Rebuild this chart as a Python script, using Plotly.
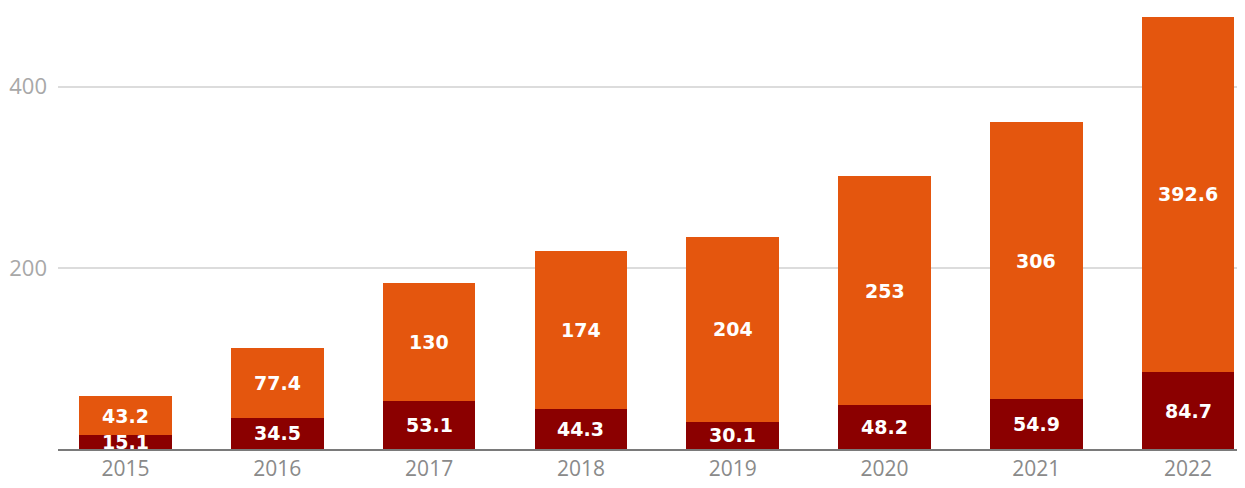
import plotly.graph_objects as go

years = ["2015", "2016", "2017", "2018", "2019", "2020", "2021", "2022"]
bottom_vals = [15.1, 34.5, 53.1, 44.3, 30.1, 48.2, 54.9, 84.7]
top_vals = [43.2, 77.4, 130, 174, 204, 253, 306, 392.6]
y_ticks = [200, 400]

dark = "#8B0000"
orange = "#E4560E"

fig = go.Figure()
fig.add_trace(go.Bar(x=years, y=bottom_vals, marker=dict(color=dark, line=dict(width=0)),
                     width=0.61, hoverinfo="skip"))
fig.add_trace(go.Bar(x=years, y=top_vals, marker=dict(color=orange, line=dict(width=0)),
                     width=0.61, hoverinfo="skip"))

def fmt(v):
    return ("%g" % v)

for i, (b, t) in enumerate(zip(bottom_vals, top_vals)):
    fig.add_annotation(x=i, y=b / 2, text="<b>%s</b>" % fmt(b), showarrow=False, xref="x", yref="y",
                       font=dict(family="DejaVu Sans", size=19, color="white"))
    fig.add_annotation(x=i, y=b + t / 2, text="<b>%s</b>" % fmt(t), showarrow=False, xref="x", yref="y",
                       font=dict(family="DejaVu Sans", size=19, color="white"))

fig.update_layout(
    barmode="stack",
    width=1237, height=480,
    margin=dict(l=50, r=0, t=0, b=39),
    paper_bgcolor="white", plot_bgcolor="white",
    showlegend=False,
)
fig.update_xaxes(
    type="category", range=[-0.445, 7.375],
    showline=True, linecolor="#7a7a7a", linewidth=2,
    showgrid=False, ticks="",
    tickfont=dict(family="Open Sans", size=21, color="#8a8a8a"),
)
fig.update_yaxes(
    range=[0, 486.8], tickvals=y_ticks, ticktext=[str(v) for v in y_ticks],
    showgrid=True, gridcolor="#dcdcdc", gridwidth=2,
    zeroline=False, showline=False, ticks="",
    ticklabelstandoff=10,
    tickfont=dict(family="Open Sans", size=22, color="#a8a8a8"),
)

fig.write_html("out.html")
